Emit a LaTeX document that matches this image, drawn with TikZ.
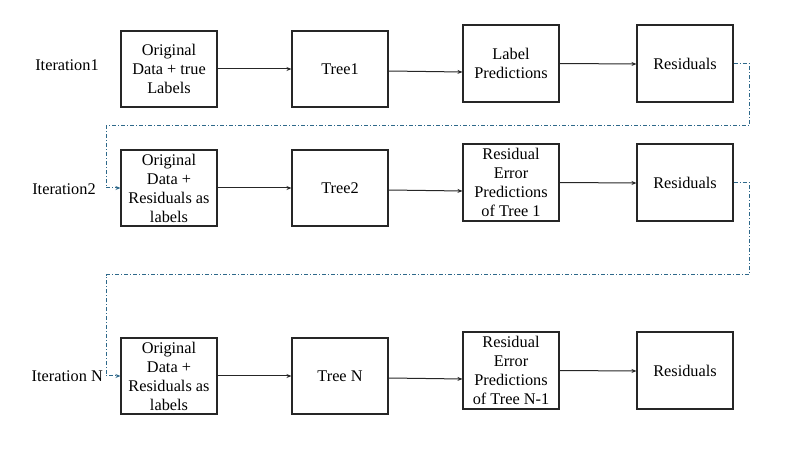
\documentclass[tikz,border=0pt]{standalone}
\usepackage{fontspec}
\setmainfont{Liberation Serif}
\newfontfamily\tfont{Liberation Serif}
\usetikzlibrary{arrows.meta}
\definecolor{dashblue}{RGB}{46,104,138}
\tikzset{
  box/.style={draw=black!85, line width=1.1pt, minimum width=96pt, minimum height=76pt, inner sep=0pt, align=center, font=\tfont\fontsize{16.3}{19}\selectfont},
  itlabel/.style={font=\tfont\fontsize{16.3}{19}\selectfont, inner sep=0pt},
  flow/.style={draw=black!85, line width=1pt, -{Stealth[length=5pt,width=4pt]}},
  loop/.style={draw=dashblue, line width=1pt, dash pattern=on 4pt off 2pt on 1pt off 2pt, -{Stealth[length=5pt,width=4pt]}}
}
\begin{document}
\begin{tikzpicture}[x=1pt,y=-1pt]
\useasboundingbox (0,0) rectangle (785,454);
% row 1
\node[itlabel] (it1) at (67,65) {Iteration1};
\node[box] (a1) at (169,69) {Original\\Data + true\\Labels};
\node[box] (b1) at (340,69) {Tree1};
\node[box, minimum height=77pt] (c1) at (511,63.5) {Label\\Predictions};
\node[box, minimum height=77pt] (d1) at (685,63.5) {Residuals};
% row 2
\node[itlabel] (it2) at (64,189) {Iteration2};
\node[box] (a2) at (169,188) {Original\\Data +\\Residuals as\\labels};
\node[box] (b2) at (340,188) {Tree2};
\node[box, minimum height=77pt] (c2) at (511,182.5) {Residual\\Error\\Predictions\\of Tree 1};
\node[box, minimum height=77pt] (d2) at (685,182.5) {Residuals};
% row 3
\node[itlabel, anchor=east] (it3) at (103,376) {Iteration N};
\node[box] (a3) at (169,376) {Original\\Data +\\Residuals as\\labels};
\node[box] (b3) at (340,376) {Tree N};
\node[box, minimum height=77pt] (c3) at (511,370.5) {Residual\\Error\\Predictions\\of Tree N-1};
\node[box, minimum height=77pt] (d3) at (685,370.5) {Residuals};
% flows
\foreach \r in {1,2,3}{
  \draw[flow] (a\r.east) -- (b\r.west);
  \draw[flow] ([yshift=-2pt]b\r.east) -- ([yshift=-3pt]c\r.west |- b\r.east);
  \draw[flow] (c\r.east) -- ([yshift=-0.5pt]d\r.west);
}
% loops
\coordinate (p1) at (749,126);
\coordinate (q1) at (106,126);
\coordinate (p2) at (749,275);
\coordinate (q2) at (106,275);
\draw[loop] (d1.east) -| (p1) -- (q1) |- (a2.west);
\draw[loop] (d2.east) -| (p2) -- (q2) |- (a3.west);
\end{tikzpicture}
\end{document}
